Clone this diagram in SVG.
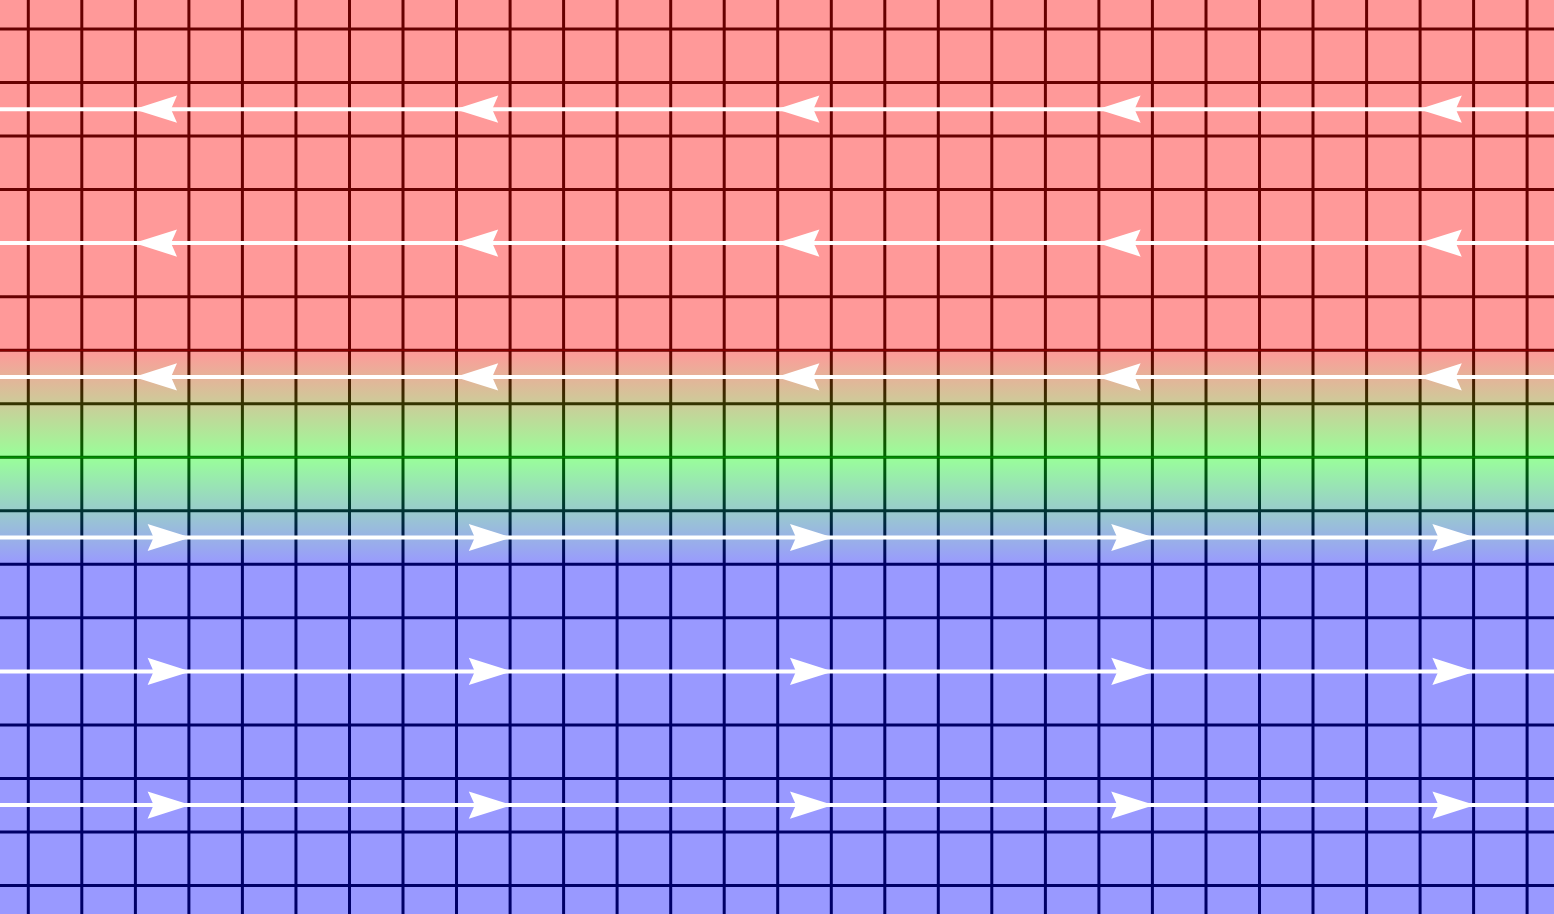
<svg xmlns="http://www.w3.org/2000/svg" width="1554" height="914" viewBox="0 0 1554 914">
<defs>
<linearGradient id="bg" gradientUnits="userSpaceOnUse" x1="0" y1="350.2" x2="0" y2="564.3">
<stop offset="0" stop-color="#ff9999"/><stop offset="0.5" stop-color="#99ff99"/><stop offset="1" stop-color="#9999ff"/>
</linearGradient>
<linearGradient id="ln" gradientUnits="userSpaceOnUse" x1="0" y1="350.2" x2="0" y2="564.3">
<stop offset="0" stop-color="#660000"/><stop offset="0.5" stop-color="#006600"/><stop offset="1" stop-color="#000066"/>
</linearGradient>
<path id="ahL" d="M0,0 L43,-13.6 L37,0 L43,13.6 Z"/>
<path id="ahR" d="M0,0 L-43,-13.6 L-37,0 L-43,13.6 Z"/>
</defs>
<style>
.g line{stroke:url(#ln);stroke-width:3;}
.f line{stroke:#fff;stroke-width:4;}
.f use{fill:#fff;}
</style>
<rect id="background" x="0" y="0" width="1554" height="914" fill="url(#bg)"/>
<g id="grid" class="g">
<line x1="28.3" y1="0" x2="28.3" y2="914"/><line x1="81.8" y1="0" x2="81.8" y2="914"/><line x1="135.4" y1="0" x2="135.4" y2="914"/><line x1="188.9" y1="0" x2="188.9" y2="914"/><line x1="242.4" y1="0" x2="242.4" y2="914"/><line x1="295.95" y1="0" x2="295.95" y2="914"/><line x1="349.5" y1="0" x2="349.5" y2="914"/><line x1="403" y1="0" x2="403" y2="914"/><line x1="456.5" y1="0" x2="456.5" y2="914"/><line x1="510.1" y1="0" x2="510.1" y2="914"/><line x1="563.6" y1="0" x2="563.6" y2="914"/><line x1="617.1" y1="0" x2="617.1" y2="914"/><line x1="670.7" y1="0" x2="670.7" y2="914"/><line x1="724.2" y1="0" x2="724.2" y2="914"/><line x1="777.7" y1="0" x2="777.7" y2="914"/><line x1="831.3" y1="0" x2="831.3" y2="914"/><line x1="884.8" y1="0" x2="884.8" y2="914"/><line x1="938.3" y1="0" x2="938.3" y2="914"/><line x1="991.8" y1="0" x2="991.8" y2="914"/><line x1="1045.4" y1="0" x2="1045.4" y2="914"/><line x1="1098.9" y1="0" x2="1098.9" y2="914"/><line x1="1152.4" y1="0" x2="1152.4" y2="914"/><line x1="1206" y1="0" x2="1206" y2="914"/><line x1="1259.5" y1="0" x2="1259.5" y2="914"/><line x1="1313" y1="0" x2="1313" y2="914"/><line x1="1366.6" y1="0" x2="1366.6" y2="914"/><line x1="1420.1" y1="0" x2="1420.1" y2="914"/><line x1="1473.6" y1="0" x2="1473.6" y2="914"/><line x1="1527.1" y1="0" x2="1527.1" y2="914"/>
<line x1="0" y1="29" x2="1554" y2="29"/><line x1="0" y1="82.5" x2="1554" y2="82.5"/><line x1="0" y1="136.1" x2="1554" y2="136.1"/><line x1="0" y1="189.6" x2="1554" y2="189.6"/><line x1="0" y1="243.1" x2="1554" y2="243.1"/><line x1="0" y1="296.7" x2="1554" y2="296.7"/><line x1="0" y1="350.2" x2="1554" y2="350.2"/><line x1="0" y1="403.7" x2="1554" y2="403.7"/><line x1="0" y1="457.2" x2="1554" y2="457.2"/><line x1="0" y1="510.8" x2="1554" y2="510.8"/><line x1="0" y1="564.3" x2="1554" y2="564.3"/><line x1="0" y1="617.8" x2="1554" y2="617.8"/><line x1="0" y1="671.4" x2="1554" y2="671.4"/><line x1="0" y1="724.9" x2="1554" y2="724.9"/><line x1="0" y1="778.4" x2="1554" y2="778.4"/><line x1="0" y1="832" x2="1554" y2="832"/><line x1="0" y1="885.5" x2="1554" y2="885.5"/>
</g>
<g id="highlights">
<line x1="0" y1="350.2" x2="1554" y2="350.2" stroke="#990000" stroke-width="1"/>
<line x1="0" y1="457.2" x2="1554" y2="457.2" stroke="#00a000" stroke-width="1"/>
</g>
<g id="connectors" class="f">
<line x1="0" y1="109.2" x2="1554" y2="109.2"/>
<line x1="0" y1="243.1" x2="1554" y2="243.1"/>
<line x1="0" y1="376.9" x2="1554" y2="376.9"/>
<line x1="0" y1="537.5" x2="1554" y2="537.5"/>
<line x1="0" y1="671.4" x2="1554" y2="671.4"/>
<line x1="0" y1="805.1" x2="1554" y2="805.1"/>
<use href="#ahL" x="134" y="109.2"/><use href="#ahL" x="455.2" y="109.2"/><use href="#ahL" x="776.4" y="109.2"/><use href="#ahL" x="1097.6" y="109.2"/><use href="#ahL" x="1418.8" y="109.2"/>
<use href="#ahL" x="134" y="243.1"/><use href="#ahL" x="455.2" y="243.1"/><use href="#ahL" x="776.4" y="243.1"/><use href="#ahL" x="1097.6" y="243.1"/><use href="#ahL" x="1418.8" y="243.1"/>
<use href="#ahL" x="134" y="376.9"/><use href="#ahL" x="455.2" y="376.9"/><use href="#ahL" x="776.4" y="376.9"/><use href="#ahL" x="1097.6" y="376.9"/><use href="#ahL" x="1418.8" y="376.9"/>
<use href="#ahR" x="190.6" y="537.5"/><use href="#ahR" x="511.8" y="537.5"/><use href="#ahR" x="833" y="537.5"/><use href="#ahR" x="1154.2" y="537.5"/><use href="#ahR" x="1475.4" y="537.5"/>
<use href="#ahR" x="190.6" y="671.4"/><use href="#ahR" x="511.8" y="671.4"/><use href="#ahR" x="833" y="671.4"/><use href="#ahR" x="1154.2" y="671.4"/><use href="#ahR" x="1475.4" y="671.4"/>
<use href="#ahR" x="190.6" y="805.1"/><use href="#ahR" x="511.8" y="805.1"/><use href="#ahR" x="833" y="805.1"/><use href="#ahR" x="1154.2" y="805.1"/><use href="#ahR" x="1475.4" y="805.1"/>
</g>
</svg>
